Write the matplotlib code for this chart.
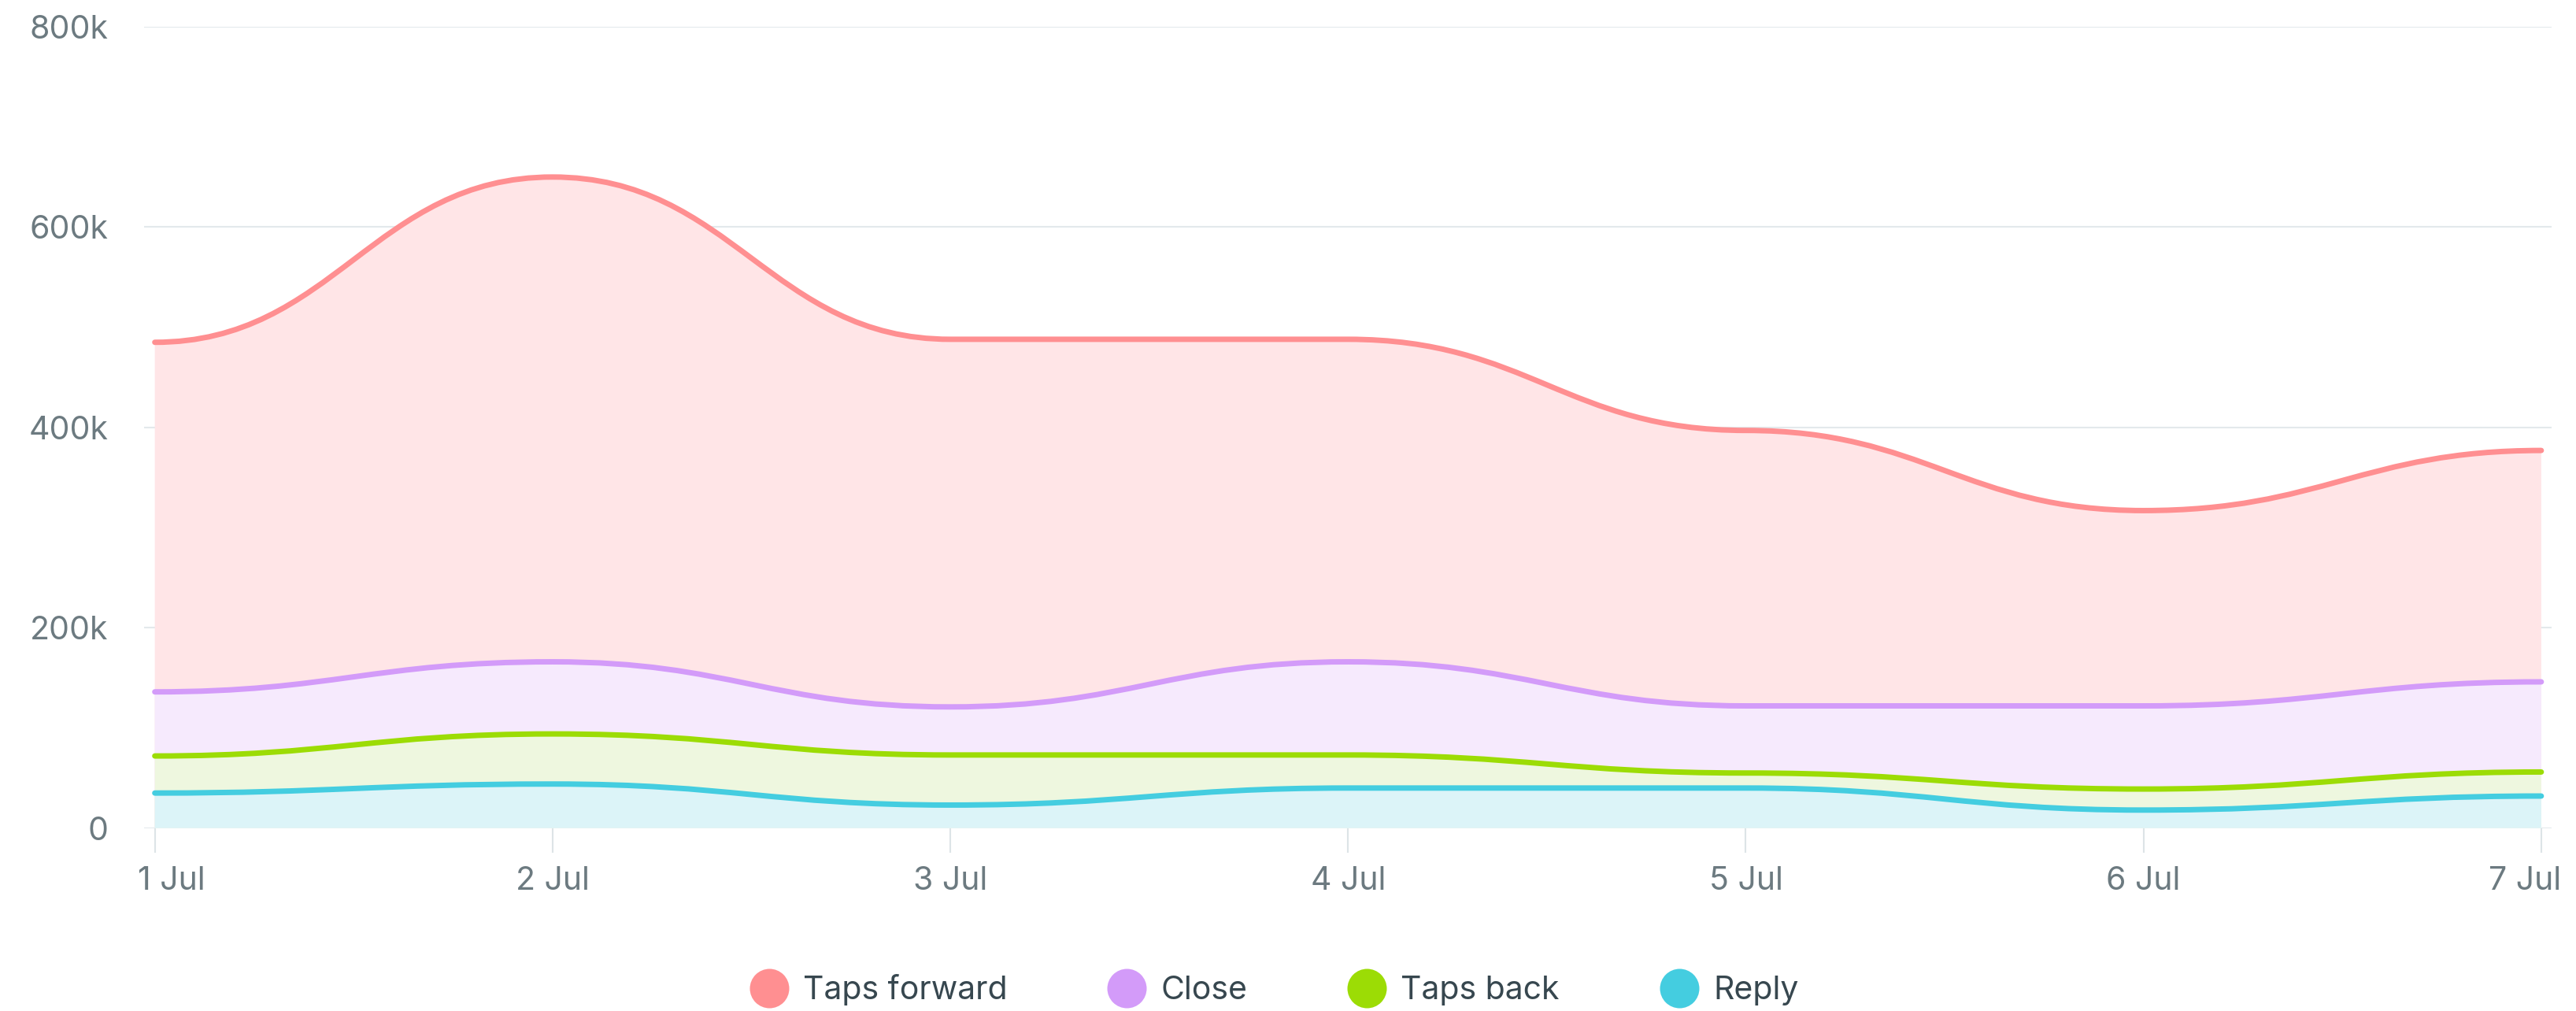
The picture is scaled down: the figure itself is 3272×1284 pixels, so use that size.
#!/usr/bin/env python3
"""Story interactions per day, drawn as smoothed overlapping areas."""
import matplotlib
matplotlib.use("Agg")
import matplotlib.pyplot as plt
from matplotlib.path import Path
from matplotlib.patches import PathPatch
from matplotlib.lines import Line2D
from matplotlib.ticker import FuncFormatter
import matplotlib.transforms as mtransforms

# ---------------------------------------------------------------------------
# Data (values in thousands)
# ---------------------------------------------------------------------------
days = ["1 Jul", "2 Jul", "3 Jul", "4 Jul", "5 Jul", "6 Jul", "7 Jul"]

taps_forward = [485, 650, 488, 488, 397, 317, 377]
close = [136, 166, 121, 166, 122, 122, 146]
taps_back = [72, 94, 73, 73, 55, 39, 56]
reply = [35, 44, 23, 40, 40, 18, 32]

series = [
    ("Taps forward", taps_forward, "#FF8F91", "#FFE5E7"),
    ("Close", close, "#D39BF9", "#F6EAFD"),
    ("Taps back", taps_back, "#9CDC05", "#EEF7DF"),
    ("Reply", reply, "#44CDE0", "#DCF4F8"),
]

SMOOTH = 0.45  # horizontal reach of the bezier handles, fraction of one step
TICK_COLOR = "#6C7A80"
GRID_COLOR = "#E3E9EC"
FONT = ["Inter", "DejaVu Sans"]


def smooth_path(xs, ys):
    """Cubic bezier through every point with flat tangents at the points."""
    verts = [(xs[0], ys[0])]
    codes = [Path.MOVETO]
    for i in range(len(xs) - 1):
        h = xs[i + 1] - xs[i]
        verts += [(xs[i] + SMOOTH * h, ys[i]),
                  (xs[i + 1] - SMOOTH * h, ys[i + 1]),
                  (xs[i + 1], ys[i + 1])]
        codes += [Path.CURVE4] * 3
    return verts, codes


plt.rcParams["font.family"] = FONT

fig = plt.figure(figsize=(32.72, 12.84), dpi=100)
W, H = 3272, 1284
ax = fig.add_axes([183 / W, 1 - 1051.7 / H, (3241 - 183) / W, (1051.7 - 34) / H])

x = list(range(len(days)))
for name, vals, line_c, fill_c in series:
    ys = [v * 1000 for v in vals]
    verts, codes = smooth_path(x, ys)
    area = Path(verts + [(x[-1], 0), (x[0], 0), (x[0], 0)],
                codes + [Path.LINETO, Path.LINETO, Path.CLOSEPOLY])
    ax.add_patch(PathPatch(area, facecolor=fill_c, edgecolor="none", zorder=2))
    ax.add_patch(PathPatch(Path(verts, codes), facecolor="none", edgecolor=line_c,
                           linewidth=5, capstyle="round", joinstyle="round", zorder=3))

ax.set_xlim(-0.027, 6.026)
ax.set_ylim(0, 800000)

for s in ax.spines.values():
    s.set_visible(False)

ax.set_yticks(range(0, 800001, 200000))
ax.yaxis.set_major_formatter(FuncFormatter(lambda v, _: "0" if v == 0 else f"{int(v / 1000)}k"))
ax.tick_params(axis="y", length=0, pad=33, labelsize=29.5, labelcolor=TICK_COLOR)
ax.grid(axis="y", color=GRID_COLOR, linewidth=1.5, zorder=0)
ax.set_axisbelow(True)

ax.set_xticks(x)
ax.set_xticklabels(days)
ax.tick_params(axis="x", length=22.5, width=1.5, color="#DDE4E7", pad=12,
               labelsize=29.5, labelcolor=TICK_COLOR)

# keep the outer date labels inside the plot width
labels = ax.get_xticklabels()
labels[0].set_transform(labels[0].get_transform() +
                        mtransforms.ScaledTranslation(21 / 100, 0, fig.dpi_scale_trans))
labels[-1].set_transform(labels[-1].get_transform() +
                         mtransforms.ScaledTranslation(-21 / 100, 0, fig.dpi_scale_trans))

handles = [Line2D([], [], linestyle="none", marker="o", markersize=36,
                  markerfacecolor=line_c, markeredgecolor="none", label=name)
           for name, _, line_c, _ in series]
leg = fig.legend(handles=handles, loc="center", bbox_to_anchor=(1618 / W, 1 - 1257 / H),
                 ncol=4, frameon=False, fontsize=29.5, handlelength=1.22,
                 handletextpad=0.44, columnspacing=3.1, borderpad=0, borderaxespad=0)
for t in leg.get_texts():
    t.set_color("#37474F")

fig.savefig("out.png", dpi=100, facecolor="white")
